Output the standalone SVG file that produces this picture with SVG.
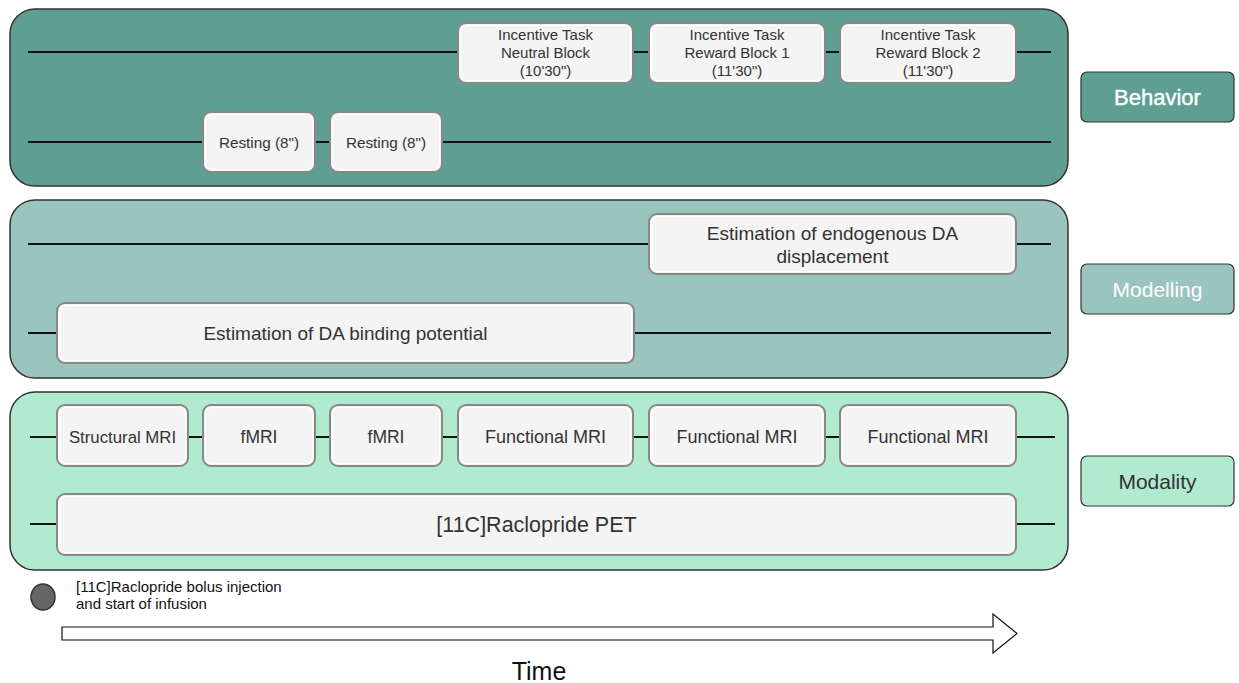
<svg xmlns="http://www.w3.org/2000/svg" width="1239" height="683" viewBox="0 0 1239 683">
<style>
.panel{stroke:#333;stroke-width:1.5}
.box{fill:#f4f4f4;stroke:#888;stroke-width:2}
.inner{fill:none;stroke:#fff;stroke-width:1}
.line{stroke:#111;stroke-width:2;fill:none}
text{font-family:"Liberation Sans",Arial,sans-serif;fill:#333;text-anchor:middle}
.leg{stroke:#333;stroke-width:1.2}
</style>
<rect width="1239" height="683" fill="#fff"/>
<g id="panel-behavior"><rect class="panel" x="10" y="9" width="1058" height="177" rx="25" fill="#5f9e92"/></g>
<g id="panel-modelling"><rect class="panel" x="10" y="200" width="1058" height="178" rx="25" fill="#9ac5be"/></g>
<g id="panel-modality"><rect class="panel" x="10" y="392" width="1058" height="178" rx="25" fill="#b1ebcf"/></g>
<g id="connectors">
<line class="line" x1="28" y1="52" x2="1051" y2="52"/>
<line class="line" x1="28" y1="142" x2="1051" y2="142"/>
<line class="line" x1="28" y1="244" x2="1051" y2="244"/>
<line class="line" x1="28" y1="333" x2="1051" y2="333"/>
<line class="line" x1="30" y1="437" x2="1055" y2="437"/>
<line class="line" x1="30" y1="524" x2="1055" y2="524"/>
</g>
<g id="neutral"><rect class="box" x="458" y="23" width="175" height="60" rx="8"/><rect class="inner" x="460.5" y="25.5" width="170" height="55" rx="6"/><text x="545.5" y="40" font-size="15">Incentive Task</text><text x="545.5" y="58" font-size="15">Neutral Block</text><text x="545.5" y="76" font-size="15">(10'30")</text></g>
<g id="reward1"><rect class="box" x="649" y="23" width="176" height="60" rx="8"/><rect class="inner" x="651.5" y="25.5" width="171" height="55" rx="6"/><text x="737" y="40" font-size="15">Incentive Task</text><text x="737" y="58" font-size="15">Reward Block 1</text><text x="737" y="76" font-size="15">(11'30")</text></g>
<g id="reward2"><rect class="box" x="840" y="23" width="176" height="60" rx="8"/><rect class="inner" x="842.5" y="25.5" width="171" height="55" rx="6"/><text x="928" y="40" font-size="15">Incentive Task</text><text x="928" y="58" font-size="15">Reward Block 2</text><text x="928" y="76" font-size="15">(11'30")</text></g>
<g id="resting1"><rect class="box" x="203" y="112" width="112" height="60" rx="8"/><rect class="inner" x="205.5" y="114.5" width="107" height="55" rx="6"/><text x="259" y="148" font-size="15.3">Resting (8")</text></g>
<g id="resting2"><rect class="box" x="330" y="112" width="112" height="60" rx="8"/><rect class="inner" x="332.5" y="114.5" width="107" height="55" rx="6"/><text x="386" y="148" font-size="15.3">Resting (8")</text></g>
<g id="endogenous"><rect class="box" x="649" y="214" width="367" height="60" rx="8"/><rect class="inner" x="651.5" y="216.5" width="362" height="55" rx="6"/><text x="832.5" y="240" font-size="19">Estimation of endogenous DA</text><text x="832.5" y="263" font-size="19">displacement</text></g>
<g id="binding"><rect class="box" x="57" y="303" width="577" height="60" rx="8"/><rect class="inner" x="59.5" y="305.5" width="572" height="55" rx="6"/><text x="345.5" y="340" font-size="19">Estimation of DA binding potential</text></g>
<g id="structural"><rect class="box" x="57" y="405" width="131" height="61" rx="8"/><rect class="inner" x="59.5" y="407.5" width="126" height="56" rx="6"/><text x="122.5" y="443" font-size="16.8">Structural MRI</text></g>
<g id="fmri1"><rect class="box" x="203" y="405" width="112" height="61" rx="8"/><rect class="inner" x="205.5" y="407.5" width="107" height="56" rx="6"/><text x="259" y="443" font-size="17.5">fMRI</text></g>
<g id="fmri2"><rect class="box" x="330" y="405" width="112" height="61" rx="8"/><rect class="inner" x="332.5" y="407.5" width="107" height="56" rx="6"/><text x="386" y="443" font-size="17.5">fMRI</text></g>
<g id="func1"><rect class="box" x="458" y="405" width="175" height="61" rx="8"/><rect class="inner" x="460.5" y="407.5" width="170" height="56" rx="6"/><text x="545.5" y="443" font-size="18">Functional MRI</text></g>
<g id="func2"><rect class="box" x="649" y="405" width="176" height="61" rx="8"/><rect class="inner" x="651.5" y="407.5" width="171" height="56" rx="6"/><text x="737" y="443" font-size="18">Functional MRI</text></g>
<g id="func3"><rect class="box" x="840" y="405" width="176" height="61" rx="8"/><rect class="inner" x="842.5" y="407.5" width="171" height="56" rx="6"/><text x="928" y="443" font-size="18">Functional MRI</text></g>
<g id="pet"><rect class="box" x="57" y="494" width="959" height="61" rx="8"/><rect class="inner" x="59.5" y="496.5" width="954" height="56" rx="6"/><text x="536.5" y="532" font-size="21.5">[11C]Raclopride PET</text></g>
<g id="legend-behavior"><rect class="leg" x="1081" y="72" width="153" height="50" rx="6" fill="#5f9e92"/><text x="1157.5" y="105" font-size="22" style="fill:#fff;stroke:#fff;stroke-width:0.4">Behavior</text></g>
<g id="legend-modelling"><rect class="leg" x="1081" y="264" width="153" height="50" rx="6" fill="#9ac5be"/><text x="1157.5" y="297" font-size="21" style="fill:#fff">Modelling</text></g>
<g id="legend-modality"><rect class="leg" x="1081" y="456" width="153" height="50" rx="6" fill="#b1ebcf"/><text x="1157.5" y="489" font-size="21">Modality</text></g>
<g id="injection"><ellipse cx="43" cy="597" rx="12" ry="13" fill="#666" stroke="#333" stroke-width="1.5"/><text x="76" y="592" font-size="15" style="text-anchor:start;fill:#111">[11C]Raclopride bolus injection</text><text x="76" y="609" font-size="15" style="text-anchor:start;fill:#111">and start of infusion</text></g>
<g id="time-arrow"><path d="M62 627 H993 V614 L1017 633.5 L993 653 V640 H62 Z" fill="#fff" stroke="#111" stroke-width="1.2"/><text x="539" y="680" font-size="25" style="fill:#111">Time</text></g>
</svg>
